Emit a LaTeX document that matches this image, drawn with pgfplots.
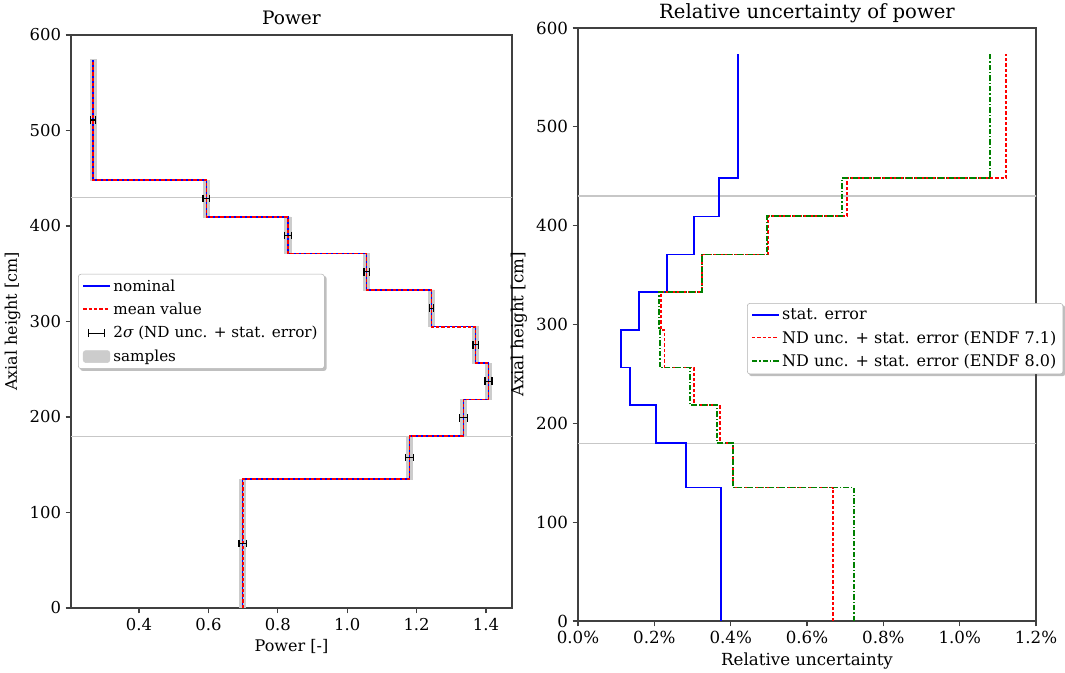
\documentclass[border=0pt]{standalone}
\usepackage{pgfplots}
\pgfplotsset{compat=1.18}
\usepackage{fontspec}
\setmainfont{DejaVu Serif}
\usetikzlibrary{backgrounds}
\definecolor{mplgreen}{rgb}{0,0.5,0}
\pgfplotsset{common/.style={
  scale only axis,
  axis line style={black!75, line width=0.9pt},
  tick style={black!75, line width=0.8pt},
  tick align=outside, major tick length=4pt,
  xtick pos=left, ytick pos=left,
  ymin=0, ymax=600, ytick={0,100,200,300,400,500,600},
  /pgf/number format/assume math mode=true,
  legend style={draw=black!30, fill=white, rounded corners=2pt,
    inner xsep=3pt, inner ysep=2pt},
  legend cell align=left,
  legend image code/.code={\draw[##1] (0pt,0.3pt) -- (20pt,0.3pt);},
}}
\begin{document}
\begin{tikzpicture}
\path[use as bounding box] (0pt,0pt) rectangle (798.75pt,504.75pt);
% ---------------- Left: Power ----------------
\begin{axis}[common,
  at={(53.25pt,48.75pt)}, anchor=south west,
  width=330.75pt, height=429.75pt,
  xmin=0.204, xmax=1.475,
  xtick={0.4,0.6,0.8,1.0,1.2,1.4},
  xticklabel style={/pgf/number format/.cd, fixed, fixed zerofill, precision=1},
  ticklabel style={font=\fontsize{12.3}{14}\selectfont},
  label style={font=\fontsize{12}{14}\selectfont},
  title style={font=\fontsize{13.9}{16}\selectfont, yshift=-2pt},
  title={Power}, xlabel={Power [-]}, ylabel={Axial height [cm]},
  legend style={name=legL, at={(0.016,0.583)}, anchor=north west, font=\fontsize{11.4}{14}\selectfont, row sep=3.4pt},
  unbounded coords=jump,
]
% gray reference lines
\addplot[forget plot, black!22, line width=0.8pt] coordinates {(0,430) (2,430)};
\addplot[forget plot, black!22, line width=0.8pt] coordinates {(0,180) (2,180)};
% samples band
\addplot[forget plot, fill=black!20, draw=black!20, line width=0.6pt] coordinates {
(0.690,0) (0.690,135) (1.171,135) (1.171,180) (1.326,180) (1.326,218.5) (1.398,218.5) (1.398,256.5)
(1.361,256.5) (1.361,294.5) (1.234,294.5) (1.234,333) (1.047,333) (1.047,371) (0.820,371) (0.820,409.5)
(0.585,409.5) (0.585,448) (0.259,448) (0.259,574) (0.277,574) (0.277,448) (0.603,448) (0.603,409.5)
(0.838,409.5) (0.838,371) (1.065,371) (1.065,333) (1.252,333) (1.252,294.5) (1.379,294.5) (1.379,256.5)
(1.416,256.5) (1.416,218.5) (1.344,218.5) (1.344,180) (1.189,180) (1.189,135) (0.708,135) (0.708,0)} -- cycle;
% nominal
\addplot[forget plot, blue, line width=1.1pt] coordinates {
(0.699,0) (0.699,135) (1.180,135) (1.180,180) (1.335,180) (1.335,218.5) (1.407,218.5) (1.407,256.5)
(1.370,256.5) (1.370,294.5) (1.243,294.5) (1.243,333) (1.056,333) (1.056,371) (0.829,371) (0.829,409.5)
(0.594,409.5) (0.594,448) (0.268,448) (0.268,574)};
% mean value
\addplot[forget plot, red, line width=1.2pt, dash pattern=on 2.5pt off 1.5pt] coordinates {
(0.699,0) (0.699,135) (1.180,135) (1.180,180) (1.335,180) (1.335,218.5) (1.407,218.5) (1.407,256.5)
(1.370,256.5) (1.370,294.5) (1.243,294.5) (1.243,333) (1.056,333) (1.056,371) (0.829,371) (0.829,409.5)
(0.594,409.5) (0.594,448) (0.268,448) (0.268,574)};
% 2 sigma error bars (lower / upper end of each bar)
\addplot[forget plot, black, line width=0.8pt, mark=|, mark size=2.8pt, mark options={solid, line width=1pt}] table {
x y
0.688 67.5
0.710 67.5
nan nan
1.1685 157.5
1.1915 157.5
nan nan
1.323 199
1.347 199
nan nan
1.397 237.5
1.417 237.5
nan nan
1.3625 275.5
1.3775 275.5
nan nan
1.2365 314
1.2495 314
nan nan
1.048 352
1.064 352
nan nan
0.819 390
0.839 390
nan nan
0.584 429
0.604 429
nan nan
0.261 511
0.275 511
};
\addlegendimage{blue, line width=1.1pt}
\addlegendimage{red, line width=1.3pt, dash pattern=on 2.5pt off 1.5pt}
\addlegendimage{legend image code/.code={
  \draw[black, line width=0.8pt] (4pt,0pt) -- (16pt,0pt);
  \draw[black, line width=0.9pt] (4pt,-3pt) -- (4pt,3pt);
  \draw[black, line width=0.9pt] (16pt,-3pt) -- (16pt,3pt);}}
\addlegendimage{legend image code/.code={
  \fill[black!20] (0pt,-4.5pt) rectangle (20pt,4.5pt);}}
\legend{nominal, mean value, 2{\itshape σ} (ND unc. + stat. error), samples}
\end{axis}
% ---------------- Right: relative uncertainty ----------------
\begin{axis}[common,
  at={(433.5pt,39pt)}, anchor=south west,
  width=343.5pt, height=444.75pt,
  xmin=0, xmax=1.2,
  xtick={0,0.2,0.4,0.6,0.8,1.0,1.2},
  xticklabels={0.0\%,0.2\%,0.4\%,0.6\%,0.8\%,1.0\%,1.2\%},
  ticklabel style={font=\fontsize{12.5}{14}\selectfont},
  label style={font=\fontsize{12.5}{14}\selectfont},
  title style={font=\fontsize{14.7}{17}\selectfont, yshift=-6pt},
  title={Relative uncertainty of power}, xlabel={Relative uncertainty}, ylabel={Axial height [cm]},
  legend style={name=legR, at={(0.369,0.536)}, anchor=north west, font=\fontsize{12}{14}\selectfont, row sep=3pt},
]
\addplot[forget plot, black!22, line width=0.8pt] coordinates {(-1,430) (2,430)};
\addplot[forget plot, black!22, line width=0.8pt] coordinates {(-1,180) (2,180)};
\addplot[blue, line width=1.1pt] coordinates {
(0.375,0) (0.375,135) (0.283,135) (0.283,180) (0.204,180) (0.204,218.5) (0.136,218.5) (0.136,256.5)
(0.113,256.5) (0.113,294.5) (0.160,294.5) (0.160,333) (0.233,333) (0.233,371) (0.304,371) (0.304,409.5)
(0.370,409.5) (0.370,448) (0.419,448) (0.419,574)};
\addplot[red, line width=1.2pt, dash pattern=on 2.5pt off 1.5pt] coordinates {
(0.668,0) (0.668,135) (0.406,135) (0.406,180) (0.372,180) (0.372,218.5) (0.304,218.5) (0.304,256.5)
(0.227,256.5) (0.227,294.5) (0.217,294.5) (0.217,333) (0.325,333) (0.325,371) (0.498,371) (0.498,409.5)
(0.705,409.5) (0.705,448) (1.122,448) (1.122,574)};
\addplot[mplgreen, line width=1.2pt, dash pattern=on 4pt off 1.5pt on 1pt off 1.5pt] coordinates {
(0.723,0) (0.723,135) (0.406,135) (0.406,180) (0.364,180) (0.364,218.5) (0.293,218.5) (0.293,256.5)
(0.215,256.5) (0.215,294.5) (0.212,294.5) (0.212,333) (0.325,333) (0.325,371) (0.495,371) (0.495,409.5)
(0.692,409.5) (0.692,448) (1.080,448) (1.080,574)};
\legend{stat. error, ND unc. + stat. error (ENDF 7.1), ND unc. + stat. error (ENDF 8.0)}
\end{axis}
\begin{scope}[on background layer]
\fill[black!25, rounded corners=2pt] ([shift={(1.5pt,-1.5pt)}]legL.south west) rectangle ([shift={(1.5pt,-1.5pt)}]legL.north east);
\fill[black!25, rounded corners=2pt] ([shift={(1.5pt,-1.5pt)}]legR.south west) rectangle ([shift={(1.5pt,-1.5pt)}]legR.north east);
\end{scope}
\end{tikzpicture}
\end{document}
